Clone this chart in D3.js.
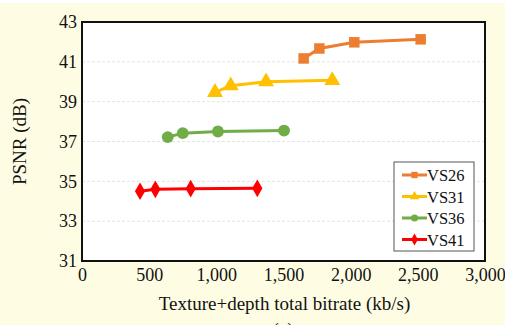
<!DOCTYPE html>
<html>
<head>
<meta charset="utf-8">
<script src="https://cdn.jsdelivr.net/npm/d3@7"></script>
<style>
  html, body { margin: 0; padding: 0; background: #fefde4; }
  svg { display: block; }
  text { font-family: "Liberation Serif", "Times New Roman", serif; fill: #111; }
</style>
</head>
<body>
<svg id="chart" width="505" height="325"></svg>
<script>
const seriesNames = ['VS26', 'VS31', 'VS36', 'VS41'];
const seriesColors = ['#ed7d31', '#ffc000', '#70ad47', '#ff0000'];
const vs26Rate = [1650, 1767, 2027, 2521];
const vs26Psnr = [41.17, 41.67, 41.98, 42.13];
const vs31Rate = [990, 1107, 1370, 1863];
const vs31Psnr = [39.47, 39.8, 40.0, 40.07];
const vs36Rate = [638, 750, 1012, 1504];
const vs36Psnr = [37.22, 37.42, 37.5, 37.55];
const vs41Rate = [432, 546, 809, 1305];
const vs41Psnr = [34.5, 34.6, 34.63, 34.65];
const xTicks = [0, 500, 1000, 1500, 2000, 2500, 3000];
const yTicks = [31, 33, 35, 37, 39, 41, 43];

const rates = [vs26Rate, vs31Rate, vs36Rate, vs41Rate];
const psnrs = [vs26Psnr, vs31Psnr, vs36Psnr, vs41Psnr];
const symbols = [d3.symbolSquare, d3.symbolTriangle, d3.symbolCircle, d3.symbolDiamond];
const symSize = [110, 110, 110, 90];

const margin = { left: 82, right: 20, top: 22, bottom: 64 };
const W = 505, H = 325;
const serif = '"Liberation Serif", "Times New Roman", serif';

const svg = d3.select('#chart');
svg.append('rect').attr('width', W).attr('height', 3).attr('fill', '#ffffff');

const x = d3.scaleLinear().domain([0, 3000]).range([margin.left, W - margin.right]);
const y = d3.scaleLinear().domain([31, 43]).range([H - margin.bottom, margin.top]);

// plot area
svg.append('rect')
  .attr('x', x(0)).attr('y', y(43))
  .attr('width', x(3000) - x(0)).attr('height', y(31) - y(43))
  .attr('fill', '#ffffff');

// gridlines
svg.append('g').selectAll('line')
  .data(yTicks.filter(t => t > 31 && t < 43))
  .join('line')
  .attr('x1', x(0)).attr('x2', x(3000))
  .attr('y1', d => y(d)).attr('y2', d => y(d))
  .attr('stroke', '#dcdcdc').attr('stroke-width', 0.8)
  .attr('stroke-dasharray', '3,2');

// axes
const xAxis = svg.append('g')
  .attr('transform', `translate(0,${y(31)})`)
  .call(d3.axisBottom(x).tickValues(xTicks).tickSize(0).tickPadding(7)
    .tickFormat(d3.format(',')));
xAxis.select('.domain').remove();
xAxis.attr('font-size', 18).attr('font-family', serif);
xAxis.selectAll('text').attr('fill', '#111');

const yAxis = svg.append('g')
  .attr('transform', `translate(${x(0)},0)`)
  .call(d3.axisLeft(y).tickValues(yTicks).tickSize(0).tickPadding(5));
yAxis.select('.domain').remove();
yAxis.attr('font-size', 18).attr('font-family', serif);
yAxis.selectAll('text').attr('fill', '#111');

// frame
svg.append('rect')
  .attr('x', x(0)).attr('y', y(43))
  .attr('width', x(3000) - x(0)).attr('height', y(31) - y(43))
  .attr('fill', 'none').attr('stroke', '#111').attr('stroke-width', 2);

// series
const line = d3.line().x(d => x(d[0])).y(d => y(d[1]));
seriesNames.forEach((name, i) => {
  const pts = rates[i].map((r, j) => [r, psnrs[i][j]]);
  const g = svg.append('g');
  g.append('path').datum(pts)
    .attr('d', line).attr('fill', 'none')
    .attr('stroke', seriesColors[i]).attr('stroke-width', 3);
  g.selectAll('path.pt').data(pts).join('path')
    .attr('class', 'pt')
    .attr('d', d3.symbol().type(symbols[i]).size(symSize[i]))
    .attr('transform', d => `translate(${x(d[0])},${y(d[1])})`)
    .attr('fill', seriesColors[i]);
});

// legend
const lg = svg.append('g').attr('transform', 'translate(394,162)');
lg.append('rect').attr('width', 80).attr('height', 89)
  .attr('fill', '#ffffff').attr('stroke', '#555').attr('stroke-width', 1);
seriesNames.forEach((name, i) => {
  const cy = 13 + i * 21.5;
  lg.append('line').attr('x1', 8).attr('x2', 33).attr('y1', cy).attr('y2', cy)
    .attr('stroke', seriesColors[i]).attr('stroke-width', 3);
  lg.append('path')
    .attr('d', d3.symbol().type(symbols[i]).size(40))
    .attr('transform', `translate(20.5,${cy})`)
    .attr('fill', seriesColors[i]);
  lg.append('text').attr('x', 33).attr('y', cy + 6)
    .attr('font-size', 16.5).text(name);
});

// axis titles
svg.append('text')
  .attr('x', (x(0) + x(3000)) / 2 + 1).attr('y', 310)
  .attr('text-anchor', 'middle').attr('font-size', 19)
  .text('Texture+depth total bitrate (kb/s)');
svg.append('text')
  .attr('transform', `translate(26,${(y(31) + y(43)) / 2}) rotate(-90)`)
  .attr('text-anchor', 'middle').attr('font-size', 19)
  .text('PSNR (dB)');
svg.append('text')
  .attr('x', 283).attr('y', 336)
  .attr('text-anchor', 'middle').attr('font-size', 19)
  .text('(a)');
</script>
</body>
</html>
